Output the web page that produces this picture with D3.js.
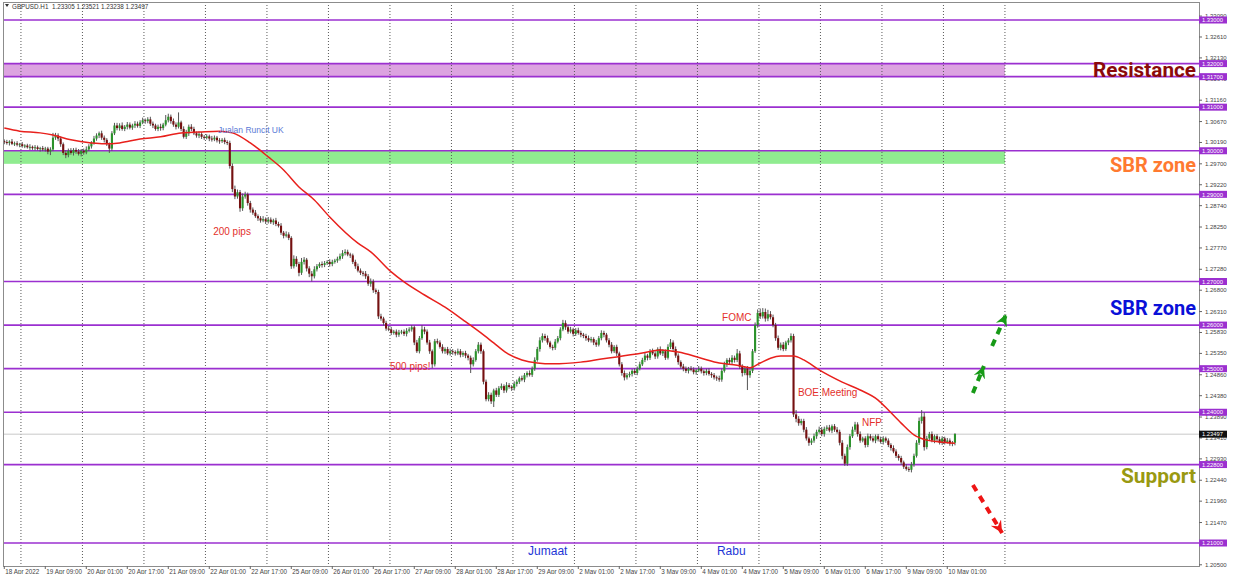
<!DOCTYPE html>
<html><head><meta charset="utf-8">
<script src="https://cdn.jsdelivr.net/npm/d3@7"></script>
<style>
html,body{margin:0;padding:0;background:#fff;overflow:hidden;}
svg{display:block;font-family:"Liberation Sans",Arial,sans-serif;}
</style></head><body>
<svg id="chart" width="1240" height="574"></svg>
<script>
// GBPUSD H1, prices in pips (x 1e-4), bar 0 = 18 Apr 17:00
const firstOpen = 13022;
const closes = [
 13020,13018,13021,13016,13017,13014,13015,
 13011,13012,13008,13009,13006,13008,13004,13006,13003,13005,
 12998,13003,13030,13035,13028,
 13015,12995,12990,
 13000,12995,13002,12998,12993,13000,12996,13003,
 13010,13018,13028,13035,13040,
 13030,13025,13015,
 13005,13040,13058,
 13052,13058,13050,13055,13060,13053,13058,13062,13057,
 13065,13070,13068,13072,
 13062,13058,13050,13055,13052,13060,
 13070,13078,13068,
 13060,13055,13065,13050,
 13032,13040,
 13055,13050,
 13040,13035,13038,13032,
 13030,13033,13028,13026,13030,13024,13022,13025,13020,
 13018,12965,12912,
 12895,12905,12868,12895,12900,12880,12865,
 12858,12850,12845,12840,12843,12838,12842,12836,12840,12832,12828,
 12812,12805,12808,12800,
 12735,
 12752,12740,12720,12745,12750,12730,12718,12712,12728,
 12735,12740,12738,12742,12745,12740,12745,12748,
 12752,12758,12765,12768,12762,12760,
 12745,12735,12725,12720,12718,
 12712,12695,12700,12680,12676,
 12620,12615,12605,12592,12590,
 12582,12585,12578,12583,12585,12580,12587,12590,
 12595,12560,12540,
 12570,12590,12585,
 12560,12540,12510,12563,12560,
 12550,12540,12545,12535,12540,12538,12535,12540,12532,12536,12530,
 12525,12510,12520,12540,
 12555,12540,
 12470,12430,
 12440,12425,12450,12440,
 12455,12460,12450,12462,12458,12455,12465,
 12470,12478,12475,12485,12490,12486,12500,
 12520,12545,12565,12575,
 12570,12560,12550,12548,12562,12570,
 12590,12605,12595,
 12585,12590,12580,12588,12582,12578,
 12575,12570,12565,12568,12560,12555,
 12570,12582,12578,12565,
 12555,12540,12550,12535,
 12510,12490,12480,12485,
 12488,12495,12490,12500,12510,
 12520,12530,12525,12540,12535,12528,12545,12535,12540,12525,12550,
 12560,12545,12530,
 12515,12505,12500,
 12495,12500,12498,12492,12496,12500,12494,12490,12495,12488,12485,12480,12478,12475,
 12495,12510,12520,12515,12525,12520,12535,
 12505,12490,12500,12485,12495,
 12540,12600,12628,
 12620,12630,12615,12625,12618,
 12600,12570,12548,
 12555,12545,12560,12565,12575,
 12395,
 12385,12375,12380,
 12360,12340,12330,12335,
 12345,12355,12360,12350,12362,
 12365,12358,12368,12360,12355,
 12330,12300,12282,
 12320,12345,12360,12372,
 12350,12335,12340,12325,12345,
 12340,12335,12345,12338,12332,12340,12335,
 12325,12318,12310,12300,12295,
 12285,12275,12270,12268,12280,
 12300,12330,12380,
 12390,12320,12340,
 12350,12335,12345,12338,12330,12340,12332,12335,12328,12330,12350
];
const wickUp = [
 4,5,3,6,4,5,3,
 5,3,4,6,3,5,4,3,5,4,
 4,5,11,6,5,
 5,4,6,
 5,6,4,5,6,4,5,7,
 5,4,6,5,4,
 6,5,4,
 4,5,6,
 6,5,7,4,6,5,4,6,5,
 5,6,4,5,
 6,5,4,5,7,4,
 12,7,5,
 6,5,23,4,
 6,8,
 5,6,
 5,4,6,5,
 4,5,4,6,5,4,5,4,5,
 4,5,6,
 8,6,5,7,6,4,5,
 5,6,4,5,7,4,6,5,4,6,5,
 6,4,7,5,
 4,
 8,6,5,9,6,4,5,6,7,
 5,4,6,5,4,6,5,4,
 5,6,7,6,5,4,
 4,5,6,5,4,
 6,5,7,5,4,
 5,6,4,5,6,
 6,4,5,6,4,5,6,5,
 5,4,6,
 5,10,6,
 5,6,4,5,6,
 5,6,4,5,6,5,4,6,5,4,5,
 4,5,6,5,
 6,5,
 4,5,
 6,5,4,6,
 5,6,4,7,5,4,6,
 5,4,6,5,4,6,5,
 6,5,7,6,
 5,6,4,5,6,5,
 5,7,6,
 5,6,4,5,6,5,
 4,5,6,5,4,6,
 5,6,5,4,
 5,6,4,5,
 4,5,6,5,
 5,4,6,5,6,
 5,6,4,5,6,5,4,6,5,4,6,
 8,5,6,
 5,4,6,
 5,4,6,5,4,6,5,4,5,6,4,5,4,6,
 5,6,4,5,6,5,10,
 6,5,4,6,5,
 5,6,8,
 10,9,8,10,7,
 6,5,6,
 5,6,4,5,6,
 5,
 10,6,5,
 5,6,4,5,
 6,5,7,6,5,
 5,6,4,5,6,
 5,6,5,
 6,5,7,6,
 5,6,4,5,6,
 5,6,4,5,6,5,4,
 5,4,6,5,4,
 5,4,6,5,6,
 5,6,8,
 15,10,6,
 5,6,4,5,6,5,4,6,5,4,2
];
const wickDn = [
 5,4,6,3,5,4,6,
 4,5,3,6,4,5,3,6,4,5,
 6,8,4,5,6,
 6,5,7,
 5,4,6,5,4,6,5,4,
 4,5,4,5,6,
 5,6,4,
 10,5,4,
 5,6,4,5,6,4,5,6,4,
 5,4,6,5,
 5,6,4,5,6,5,
 4,5,6,
 5,6,4,5,
 4,5,
 6,5,
 4,5,6,5,
 5,4,6,5,4,5,6,4,5,
 5,6,7,
 6,5,8,6,5,6,7,
 5,4,6,5,4,6,5,4,6,5,4,
 5,6,4,5,
 6,
 5,6,8,5,6,7,8,12,5,
 5,4,6,5,4,6,5,4,
 5,4,6,5,4,6,
 5,6,4,5,6,
 6,5,7,6,5,
 6,5,6,5,4,
 5,4,6,5,4,5,6,4,
 5,6,4,
 5,4,6,
 5,6,9,5,4,
 4,5,6,4,5,6,5,4,6,5,6,
 6,20,5,4,
 5,6,
 6,5,
 5,6,13,5,
 5,4,6,5,4,6,5,
 6,5,4,6,5,4,5,
 5,4,6,5,
 6,5,4,6,5,4,
 5,4,6,
 5,4,6,5,4,6,
 5,6,4,5,6,5,
 4,5,6,5,
 6,5,4,6,
 5,6,7,5,
 5,6,4,5,4,
 4,5,6,5,4,6,5,4,6,5,4,
 5,6,5,
 6,5,6,
 5,6,4,5,6,4,5,6,5,4,6,5,6,5,
 5,4,6,5,4,6,5,
 6,8,5,34,6,
 5,4,6,
 6,5,7,6,5,
 5,6,5,
 6,5,4,6,5,
 6,
 8,6,5,
 6,5,7,5,
 5,6,4,5,6,
 5,4,6,5,4,
 6,8,5,
 5,6,4,5,
 6,5,4,6,5,
 5,4,6,5,4,6,5,
 5,6,4,5,6,
 6,5,4,5,6,
 5,4,5,
 6,8,5,
 5,4,6,5,4,5,6,4,5,6,6
];

// red moving average, read at sampled bars
const maBars = [0,6,14,19,26,34,39,45,53,61,69,76,84,89,96,103,109,115,121,127,138,143,151,156,164,172,179,186,191,196,202,208,214,225,233,239,249,256,263,272,279,286,291,295,299,303,308,312,318,327,334,341,345,350,355,360,365,371];
const maValues = [13052,13045,13041,13036,13025,13018,13016,13018,13027,13032,13041,13043,13045,13041,13018,12986,12956,12917,12887,12848,12788,12768,12722,12699,12669,12641,12612,12582,12559,12536,12520,12513,12511,12515,12522,12527,12536,12543,12538,12524,12513,12508,12502,12513,12524,12529,12529,12520,12497,12469,12451,12428,12405,12375,12348,12336,12332,12329];

const levels = [1.33, 1.32, 1.317, 1.31, 1.30, 1.29, 1.27, 1.26, 1.25, 1.24, 1.228, 1.21];
const zoneLow = [1.317, 1.297];
const zoneHigh = [1.32, 1.30];
const zoneEndBar = 391;
// 1.20990 sits fully under the 1.21000 tag, so it is left out
const priceTicks = [1.33090,1.32610,1.32130,1.31640,1.31160,1.30670,1.30190,1.29700,1.29220,1.28740,1.28250,1.27770,1.27280,1.26800,1.26310,1.25830,1.25350,1.24860,1.24380,1.23890,1.23410,1.22930,1.22440,1.21960,1.21470,1.20500];
const timeLabels = ["18 Apr 2022","19 Apr 09:00","20 Apr 01:00","20 Apr 17:00","21 Apr 09:00","22 Apr 01:00","22 Apr 17:00","25 Apr 09:00","26 Apr 01:00","26 Apr 17:00","27 Apr 09:00","28 Apr 01:00","28 Apr 17:00","29 Apr 09:00","2 May 01:00","2 May 17:00","3 May 09:00","4 May 01:00","4 May 17:00","5 May 09:00","6 May 01:00","6 May 17:00","9 May 09:00","10 May 01:00"];
const lastPrice = 1.23497;
const header = "GBPUSD.H1  1.23305 1.23521 1.23238 1.23497";

const notes = [
  {text: "Jualan Runcit UK", bar: 83.4, price: 1.30407, color: "#5b7ad6", size: 8.5},
  {text: "200 pips", bar: 81.5, price: 1.28067, color: "#e3302b", size: 10},
  {text: "500 pips!", bar: 150.5, price: 1.24969, color: "#e3302b", size: 10},
  {text: "FOMC", bar: 280.1, price: 1.26093, color: "#e3302b", size: 10},
  {text: "BOE Meeting", bar: 309.7, price: 1.24372, color: "#e3302b", size: 10},
  {text: "NFP", bar: 334.7, price: 1.23684, color: "#e3302b", size: 10},
  {text: "Jumaat", bar: 204.4, price: 1.20724, color: "#2236d6", size: 12},
  {text: "Rabu", bar: 278.1, price: 1.20724, color: "#2236d6", size: 12}
];
const bigLabels = [
  {text: "Resistance", price: 1.31692, color: "#8b0a0a", width: 103},
  {text: "SBR zone", price: 1.29512, color: "#ff7a30", width: 86},
  {text: "SBR zone", price: 1.26231, color: "#0a10d8", width: 86},
  {text: "Support", price: 1.22376, color: "#999911", width: 75}
];
const arrows = [
  {b0: 378, p0: 1.2444, b1: 382.3, p1: 1.2506, color: "#179a17"},
  {b0: 385.5, p0: 1.2552, b1: 391, p1: 1.2625, color: "#179a17"},
  {b0: 378, p0: 1.2233, b1: 389.4, p1: 1.2123, color: "#ee1515"}
];

const plotLeft = 3, plotRight = 1199, plotTop = 2, plotBottom = 566;
const barW = 2.5625;

const svg = d3.select("#chart");
const x = d3.scaleLinear().domain([-0.5, 391.5]).range([plotLeft, plotLeft + 392 * barW]);
const y = d3.scaleLinear().domain([1.21, 1.33]).range([543, 20]);

let defs = svg.append("defs");
defs.append("clipPath").attr("id", "plot")
  .append("rect").attr("x", plotLeft).attr("y", plotTop).attr("width", plotRight - plotLeft).attr("height", plotBottom - plotTop);

// candles data
let bars = closes.map((c, i) => {
  let o = i === 0 ? firstOpen : closes[i - 1];
  return {i: i, o: o / 1e4, c: c / 1e4,
    h: (Math.max(o, c) + (wickUp[i] || 0)) / 1e4,
    l: (Math.min(o, c) - (wickDn[i] || 0)) / 1e4};
});

let g = svg.append("g").attr("clip-path", "url(#plot)");

// zones
g.selectAll(".zone").data(zoneLow).enter().append("rect")
  .attr("x", plotLeft)
  .attr("width", x(zoneEndBar - 0.5) - plotLeft)
  .attr("y", (d, i) => y(zoneHigh[i]))
  .attr("height", (d, i) => y(d) - y(zoneHigh[i]))
  .attr("fill", (d, i) => i === 0 ? "#dca3e0" : "#90ec90");

// day separators
let dayBars = d3.range(17).map(k => 7 + 24 * k);
g.selectAll(".vgrid").data(dayBars).enter().append("line")
  .attr("x1", d => x(d - 0.5)).attr("x2", d => x(d - 0.5))
  .attr("y1", plotTop).attr("y2", plotBottom)
  .attr("stroke", "#5a5a5a").attr("stroke-width", 1).attr("stroke-dasharray", "1,2");

// current price line
g.append("line").attr("x1", plotLeft).attr("x2", plotRight)
  .attr("y1", y(lastPrice)).attr("y2", y(lastPrice))
  .attr("stroke", "#c8c8c8").attr("stroke-width", 1);

// level lines
g.selectAll(".level").data(levels).enter().append("line")
  .attr("x1", plotLeft).attr("x2", plotRight)
  .attr("y1", d => y(d)).attr("y2", d => y(d))
  .attr("stroke", "#9b30d0").attr("stroke-width", 1.7);

// wicks
g.selectAll(".wick").data(bars).enter().append("line")
  .attr("x1", d => x(d.i)).attr("x2", d => x(d.i))
  .attr("y1", d => y(d.h)).attr("y2", d => y(d.l))
  .attr("stroke", "#555").attr("stroke-width", 1);

// bodies
g.selectAll(".body").data(bars).enter().append("rect")
  .attr("x", d => x(d.i) - 1.05)
  .attr("width", 2.1)
  .attr("y", d => y(Math.max(d.o, d.c)))
  .attr("height", d => Math.max(1, Math.abs(y(d.o) - y(d.c))))
  .attr("fill", d => d.c >= d.o ? "#2a922a" : "#751010");

// moving average
let ma = maBars.map((b, i) => [b, maValues[i] / 1e4]);
g.append("path").datum(ma)
  .attr("d", d3.line().x(d => x(d[0])).y(d => y(d[1])).curve(d3.curveMonotoneX))
  .attr("fill", "none").attr("stroke", "#e8201c").attr("stroke-width", 1.5);

// annotations
g.selectAll(".note").data(notes).enter().append("text")
  .attr("x", d => x(d.bar)).attr("y", d => y(d.price))
  .attr("fill", d => d.color).attr("font-size", d => d.size)
  .text(d => d.text);

// arrows
arrows.forEach((a, i) => {
  defs.append("marker").attr("id", "ah" + i)
    .attr("viewBox", "-12 -7 14 14").attr("refX", 0).attr("refY", 0)
    .attr("markerWidth", 14).attr("markerHeight", 14).attr("markerUnits", "userSpaceOnUse")
    .attr("orient", "auto")
    .append("path").attr("d", "M0,0 L-12,-6 L-8,0 L-12,6 Z").attr("fill", a.color);
  svg.append("line")
    .attr("x1", x(a.b0)).attr("y1", y(a.p0)).attr("x2", x(a.b1)).attr("y2", y(a.p1))
    .attr("stroke", a.color).attr("stroke-width", 4).attr("stroke-dasharray", "7,6")
    .attr("marker-end", "url(#ah" + i + ")");
});

// big labels
svg.selectAll(".big").data(bigLabels).enter().append("text")
  .attr("x", plotRight - 3).attr("y", d => y(d.price))
  .attr("text-anchor", "end")
  .attr("font-family", "Roboto, 'Liberation Sans', sans-serif")
  .attr("font-weight", 700).attr("font-size", 21)
  .attr("textLength", d => d.width).attr("lengthAdjust", "spacingAndGlyphs")
  .attr("fill", d => d.color)
  .text(d => d.text);

// frame
svg.append("rect").attr("x", plotLeft + 0.5).attr("y", plotTop + 0.5)
  .attr("width", plotRight - plotLeft).attr("height", plotBottom - plotTop)
  .attr("fill", "none").attr("stroke", "#8c8c8c").attr("stroke-width", 1);

// header
svg.append("path").attr("d", "M5,4 L9,4 L7,7 Z").attr("fill", "#333");
svg.append("text").attr("x", 12).attr("y", 9).attr("font-size", 6.3).attr("fill", "#333")
  .attr("xml:space", "preserve").text(header);

// price axis
let pa = svg.append("g");
pa.selectAll(".pt").data(priceTicks).enter().append("line")
  .attr("x1", plotRight).attr("x2", plotRight + 3)
  .attr("y1", d => y(d)).attr("y2", d => y(d)).attr("stroke", "#666");
pa.selectAll(".pl").data(priceTicks).enter().append("text")
  .attr("x", plotRight + 6).attr("y", d => y(d) + 2)
  .attr("font-size", 6).attr("fill", "#444")
  .text(d => d.toFixed(5));

// level value tags
let tags = svg.selectAll(".tag").data(levels).enter().append("g")
  .attr("transform", d => "translate(" + plotRight + "," + y(d) + ")");
tags.append("rect").attr("x", 0).attr("y", -3.5).attr("width", 28).attr("height", 7).attr("fill", "#9b30d0");
tags.append("text").attr("x", 3).attr("y", 2.2).attr("font-size", 5.8).attr("fill", "#fff")
  .text(d => d.toFixed(5));

let cur = svg.append("g").attr("transform", "translate(" + plotRight + "," + y(lastPrice) + ")");
cur.append("rect").attr("x", 0).attr("y", -3.5).attr("width", 28).attr("height", 7).attr("fill", "#111");
cur.append("text").attr("x", 3).attr("y", 2.2).attr("font-size", 5.8).attr("fill", "#fff").text(lastPrice.toFixed(5));

// time axis
let ta = svg.append("g");
ta.selectAll(".tt").data(timeLabels).enter().append("line")
  .attr("x1", (d, k) => x(k * 16)).attr("x2", (d, k) => x(k * 16))
  .attr("y1", plotBottom).attr("y2", plotBottom + 3).attr("stroke", "#666");
ta.selectAll(".tl").data(timeLabels).enter().append("text")
  .attr("x", (d, k) => x(k * 16) + 1).attr("y", plotBottom + 8)
  .attr("font-size", 6.3).attr("fill", "#444")
  .text(d => d);
</script>
</body></html>
